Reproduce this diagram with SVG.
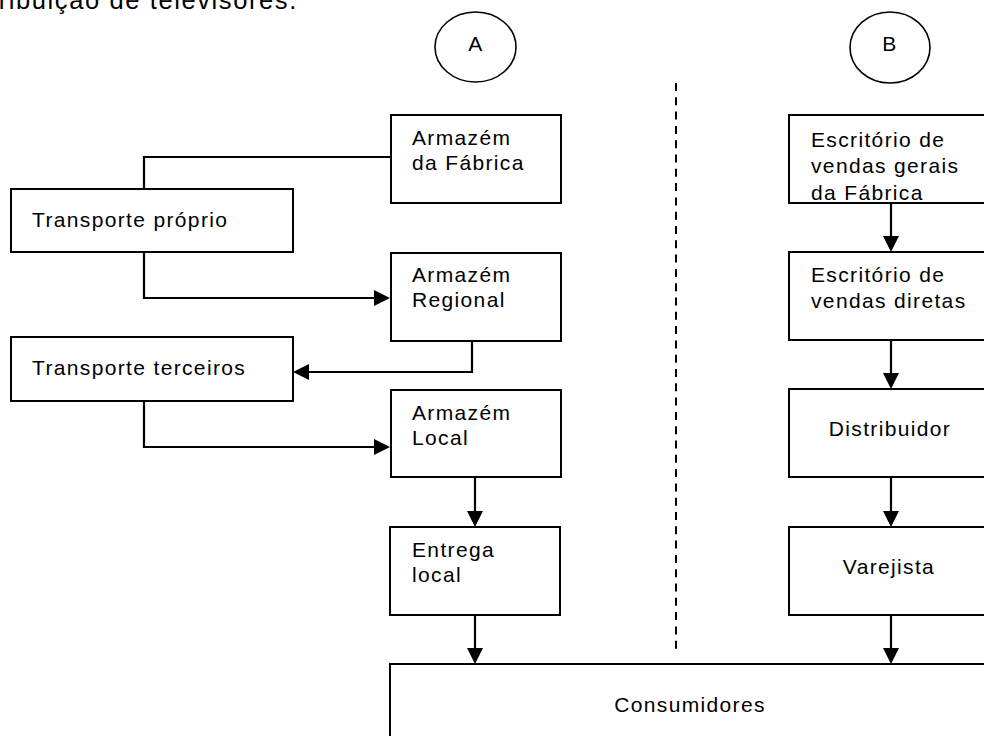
<svg xmlns="http://www.w3.org/2000/svg" width="984" height="736" viewBox="0 0 984 736">
<style>
.box{fill:#fff;stroke:#000;stroke-width:2}
.ell{fill:#fff;stroke:#000;stroke-width:1.6}
.t{font-family:"Liberation Sans",Arial,sans-serif;font-size:21px;letter-spacing:1.35px;fill:#000}
.title{font-family:"Liberation Sans",Arial,sans-serif;font-size:25.5px;letter-spacing:1.6px;fill:#000}
.c{text-anchor:middle}
.ln{fill:none;stroke:#000;stroke-width:2.2}
.ar{marker-end:url(#ah)}
.dash{fill:none;stroke:#000;stroke-width:2;stroke-dasharray:8 6.3}
</style>
<defs>
<marker id="ah" markerUnits="userSpaceOnUse" markerWidth="16" markerHeight="16" viewBox="0 0 16 16" refX="1" refY="8" orient="auto"><path d="M0,0 L16,8 L0,16 z" fill="#000"/></marker>
<clipPath id="clipB1"><rect x="790" y="116" width="200" height="86"/></clipPath>
</defs>
<rect width="984" height="736" fill="#fff"/>
<text class="title" x="-10" y="8.5">tribuição de televisores.</text>

<g id="circleA"><ellipse class="ell" cx="475.5" cy="47" rx="40.5" ry="35"/><text class="t c" x="476" y="51">A</text></g>
<g id="circleB"><ellipse class="ell" cx="890" cy="47.5" rx="40" ry="35.5"/><text class="t c" x="890" y="51">B</text></g>

<g id="connectors">
<path class="dash" d="M676,83 V650"/>
<path class="ln" d="M391,157 H144 V189"/>
<path class="ln ar" d="M144,252 V298 H375"/>
<path class="ln ar" d="M472,341 V372 H308"/>
<path class="ln ar" d="M144,401 V447 H375"/>
<path class="ln ar" d="M475,477 V512"/>
<path class="ln ar" d="M475,615 V649"/>
<path class="ln ar" d="M891,203 V237"/>
<path class="ln ar" d="M891,340 V374"/>
<path class="ln ar" d="M891,477 V512"/>
<path class="ln ar" d="M891,615 V649"/>
</g>

<g id="armazem-fabrica"><rect class="box" x="391" y="115" width="170" height="88"/><text class="t" x="412" y="145">Armazém</text><text class="t" x="412" y="170">da Fábrica</text></g>
<g id="transporte-proprio"><rect class="box" x="11" y="189" width="282" height="63"/><text class="t" x="32" y="227">Transporte próprio</text></g>
<g id="armazem-regional"><rect class="box" x="391" y="253" width="170" height="88"/><text class="t" x="412" y="282">Armazém</text><text class="t" x="412" y="307">Regional</text></g>
<g id="transporte-terceiros"><rect class="box" x="11" y="337" width="282" height="64"/><text class="t" x="32" y="375">Transporte terceiros</text></g>
<g id="armazem-local"><rect class="box" x="391" y="390" width="170" height="87"/><text class="t" x="412" y="420">Armazém</text><text class="t" x="412" y="445">Local</text></g>
<g id="entrega-local"><rect class="box" x="390" y="527" width="170" height="88"/><text class="t" x="412" y="557">Entrega</text><text class="t" x="412" y="582">local</text></g>

<g id="escritorio-gerais"><rect class="box" x="789" y="115" width="204" height="88"/><g clip-path="url(#clipB1)"><text class="t" x="811" y="146.5">Escritório de</text><text class="t" x="811" y="173">vendas gerais</text><text class="t" x="811" y="200">da Fábrica</text></g></g>
<g id="escritorio-diretas"><rect class="box" x="789" y="252" width="204" height="88"/><text class="t" x="811" y="281.5">Escritório de</text><text class="t" x="811" y="308">vendas diretas</text></g>
<g id="distribuidor"><rect class="box" x="789" y="389" width="204" height="88"/><text class="t c" x="890" y="436">Distribuidor</text></g>
<g id="varejista"><rect class="box" x="789" y="527" width="204" height="88"/><text class="t c" x="889" y="574">Varejista</text></g>

<g id="consumidores"><rect class="box" x="390" y="664" width="604" height="100"/><text class="t c" x="690" y="712">Consumidores</text></g>
</svg>
